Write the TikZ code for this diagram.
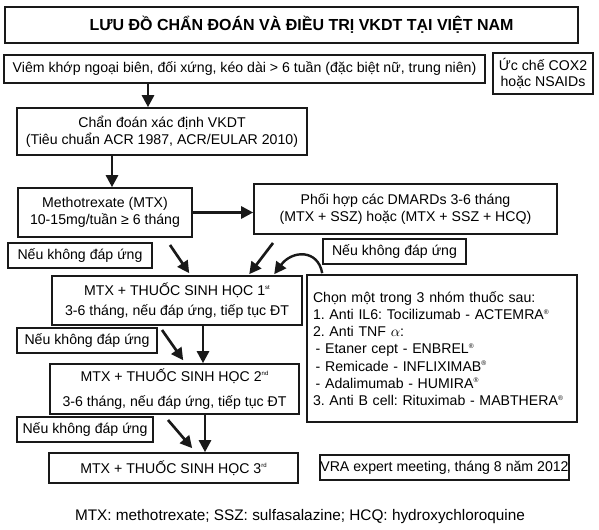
\documentclass[tikz,border=0pt]{standalone}
\usepackage{fontspec}
\setmainfont{Liberation Sans}
\usetikzlibrary{arrows.meta,calc}
\frenchspacing
\newcommand\fsbody{\fontsize{10.6pt}{12.5pt}\selectfont}
\newcommand\supx[1]{\raisebox{4.5pt}{\fontsize{4.5pt}{5pt}\selectfont #1}}
\newcommand\regm{\raisebox{4pt}{\fontsize{5pt}{5pt}\selectfont ®}}
\begin{document}
\begin{tikzpicture}[x=0.75pt,y=-0.75pt,
  box/.style={draw=black!90, line width=1.2pt, inner sep=0pt, align=center, font=\fsbody},
  wh/.style 2 args={minimum width=#1*0.75pt, minimum height=#2*0.75pt},
  arr/.style={draw=black!90, line width=2pt, -{Triangle[length=9pt,width=9pt]}},
  carr/.style={draw=black!90, line width=1.8pt, -{Triangle[length=9pt,width=9pt]}}]
\useasboundingbox (0,0) rectangle (599,530);
\fill[white] (0,0) rectangle (599,530);

\node[box, wh={573}{36}, line width=1.5pt, font=\fontsize{12pt}{14pt}\selectfont\bfseries] (title) at (291.5,25) {\hspace*{15pt}LƯU ĐỒ CHẨN ĐOÁN VÀ ĐIỀU TRỊ VKDT TẠI VIỆT NAM};
\node[box, wh={481}{28}] (b1) at (244.5,69) {Viêm khớp ngoại biên, đối xứng, kéo dài > 6 tuần (đặc biệt nữ, trung niên)};
\node[box, wh={100}{41}] (cox) at (543,73.5) {Ức chế COX2\\hoặc NSAIDs};
\node[box, wh={290}{47}] (b2) at (162,131.5) {Chẩn đoán xác định VKDT\\(Tiêu chuẩn ACR 1987, ACR/EULAR 2010)};
\node[box, wh={174}{49}] (mtx) at (105,212.5) {Methotrexate (MTX)\\10-15mg/tuần ≥ 6 tháng};
\node[box, wh={303}{50}] (phoi) at (405.5,209) {Phối hợp các DMARDs 3-6 tháng\\(MTX + SSZ) hoặc (MTX + SSZ + HCQ)};
\node[box, wh={144}{25}] (n1) at (80,255.5) {Nếu không đáp ứng};
\node[box, wh={143}{25}] (n2) at (394.5,251.5) {Nếu không đáp ứng};
\node[box, wh={250}{49}] (s1) at (177,300.5) {MTX + THUỐC SINH HỌC 1\supx{st}\\[3pt] 3-6 tháng, nếu đáp ứng, tiếp tục ĐT};
\node[box, wh={270}{147}, align=left, inner xsep=6*0.75pt, text width=258*0.75pt, font=\fontsize{10.6pt}{12.9pt}\selectfont] (chon) at (442,348.5) {Chọn một trong 3 nhóm thuốc sau:\\
1. Anti IL6: Tocilizumab - ACTEMRA\regm\\
2. Anti TNF $\alpha$:\\
\hspace*{2pt}- Etaner cept - ENBREL\regm\\
\hspace*{2pt}- Remicade - INFLIXIMAB\regm\\
\hspace*{2pt}- Adalimumab - HUMIRA\regm\\
3. Anti B cell: Rituximab - MABTHERA\regm};
\node[box, wh={140}{25}] (n3) at (87,340.5) {Nếu không đáp ứng};
\node[box, wh={249}{50}] (s2) at (174.5,389) {MTX + THUỐC SINH HỌC 2\supx{nd}\\[6pt] 3-6 tháng, nếu đáp ứng, tiếp tục ĐT};
\node[box, wh={136}{25}] (n4) at (85,429.5) {Nếu không đáp ứng};
\node[box, wh={249}{30}] (s3) at (173.5,468) {MTX + THUỐC SINH HỌC 3\supx{rd}};
\node[box, wh={249}{25}] (vra) at (444.5,467.5) {VRA expert meeting, tháng 8 năm 2012};
\node[font=\fontsize{11.5pt}{13pt}\selectfont, inner sep=0pt] (foot) at (300,517) {MTX: methotrexate; SSZ: sulfasalazine; HCQ: hydroxychloroquine};

% connectors
\coordinate (x148) at (148,0);
\coordinate (x112) at (112,0);
\coordinate (x203) at (203,0);
\coordinate (x205) at (205,0);
\draw[arr] (b1.south -| x148) -- (b2.north -| x148);
\draw[arr] (b2.south -| x112) -- (mtx.north -| x112);
\draw[arr] (mtx.east) -- (phoi.west |- mtx.east);
\coordinate (d1s) at (170,245);
\coordinate (d1e) at ($(s1.north west)+(138,-2)$);
\draw[arr] (d1s) -- (d1e);
\coordinate (d2s) at (273,243);
\coordinate (d2e) at ($(s1.north west)+(198,-1)$);
\draw[arr] (d2s) -- (d2e);
\coordinate (cs) at ($(chon.north west)+(16,-1)$);
\coordinate (ce) at ($(s1.north west)+(223,-1)$);
\draw[carr] (cs) .. controls (318,249) and (292,250) .. (ce);
\coordinate (d3s) at (162,330);
\coordinate (d3e) at ($(s2.north west)+(134,-3)$);
\draw[arr] (d3s) -- (d3e);
\draw[arr] (s1.south -| x203) -- (s2.north -| x203);
\coordinate (d4s) at (168,420);
\coordinate (d4e) at ($(s3.north west)+(144,-4)$);
\draw[arr] (d4s) -- (d4e);
\draw[arr] (s2.south -| x205) -- (s3.north -| x205);
\end{tikzpicture}
\end{document}
